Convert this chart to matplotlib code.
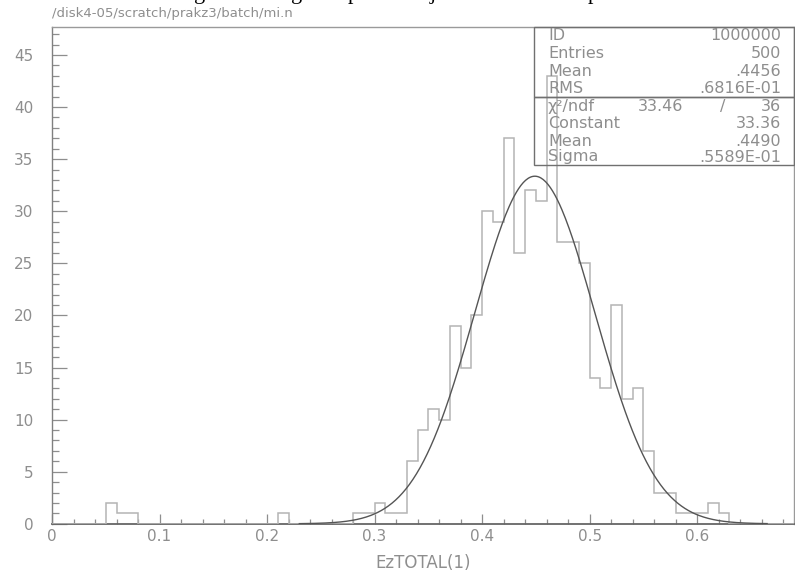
"""
PAW-style histogram of EzTOTAL(1) with a gaussian fit and stats box
"""
import numpy as np
import matplotlib
matplotlib.use("Agg")
import matplotlib.pyplot as plt
from matplotlib.patches import Rectangle
from matplotlib.ticker import MultipleLocator

# bin lower edges (width 0.01) and entries
bin_edges = [0.05, 0.06, 0.07, 0.21, 0.28, 0.29, 0.30, 0.31, 0.32, 0.33,
             0.34, 0.35, 0.36, 0.37, 0.38, 0.39, 0.40, 0.41, 0.42, 0.43,
             0.44, 0.45, 0.46, 0.47, 0.48, 0.49, 0.50, 0.51, 0.52, 0.53,
             0.54, 0.55, 0.56, 0.57, 0.58, 0.59, 0.60, 0.61, 0.62]
bin_counts = [2, 1, 1, 1, 1, 1, 2, 1, 1, 6,
              9, 11, 10, 19, 15, 20, 30, 29, 37, 26,
              32, 31, 43, 27, 27, 25, 14, 13, 21, 12,
              13, 7, 3, 3, 1, 1, 1, 2, 1]
bin_width = 0.01

# fit parameters as printed in the stats box
fit_const = 33.36
fit_mean = 0.4490
fit_sigma = 0.05589
fit_range = (0.23, 0.665)

stat_labels = ["ID", "Entries", "Mean", "RMS"]
stat_values = ["1000000", "500", ".4456", ".6816E-01"]
fit_labels = ["χ²/ndf", "Constant", "Mean", "Sigma"]
fit_values = ["36", "33.36", ".4490", ".5589E-01"]
chi2_value = "33.46"

xtick_values = [0, 0.1, 0.2, 0.3, 0.4, 0.5, 0.6]
xtick_labels = ["0", "0.1", "0.2", "0.3", "0.4", "0.5", "0.6"]
ytick_values = [0, 5, 10, 15, 20, 25, 30, 35, 40, 45]

title = "/disk4-05/scratch/prakz3/batch/mi.n"
xlabel = "EzTOTAL(1)"

W, H = 795, 574
GREY = "#8e8e8e"
plt.rcParams['font.family'] = ['DejaVu Sans']

fig = plt.figure(figsize=(W / 100, H / 100), dpi=100)
ax = fig.add_axes([52 / W, (H - 523.8) / H, (794 - 52) / W, (523.8 - 27) / H])
ax.set_xlim(0, 0.69)
ax.set_ylim(0, 47.68)

# histogram outline: full binning over the range, zero where empty
edges = np.round(np.arange(0, 0.70 + 1e-9, bin_width), 2)
counts = np.zeros(len(edges) - 1)
for lo, c in zip(bin_edges, bin_counts):
    counts[int(round(lo / bin_width))] = c
ax.stairs(counts, edges, color="#b4b4b4", lw=1.1, zorder=3)

# gaussian fit
xf = np.linspace(fit_range[0], fit_range[1], 400)
yf = fit_const * np.exp(-0.5 * ((xf - fit_mean) / fit_sigma) ** 2)
ax.plot(xf, yf, color="#555555", lw=1.0, zorder=4)

# axes styling
for side in ax.spines:
    ax.spines[side].set_color("#9a9a9a")
    ax.spines[side].set_linewidth(1.0)
ax.spines['left'].set_color("#808080")
ax.spines['bottom'].set_color("#666666")
ax.spines['bottom'].set_linewidth(1.3)

ax.xaxis.set_minor_locator(MultipleLocator(0.02))
ax.yaxis.set_minor_locator(MultipleLocator(1))
ax.set_xticks(xtick_values)
ax.set_xticklabels(xtick_labels)
ax.set_yticks(ytick_values)
ax.set_yticklabels([str(v) for v in ytick_values])
ax.tick_params(axis='x', which='major', direction='in', length=7, width=0.9,
               color=GREY, labelcolor=GREY, labelsize=11, pad=3.5)
ax.tick_params(axis='x', which='minor', direction='in', length=3.3, width=0.9,
               color=GREY)
ax.tick_params(axis='y', which='major', direction='in', length=11, width=0.9,
               color=GREY, labelcolor=GREY, labelsize=11, pad=13.5)
ax.tick_params(axis='y', which='minor', direction='in', length=5, width=0.9,
               color=GREY)

ax.set_xlabel(xlabel, color=GREY, fontsize=12)
ax.xaxis.set_label_coords(0.5, -(563 - 523.8) / (523.8 - 27))
ax.xaxis.label.set_va('center')

fig.text(52 / W, 1 - 17 / H, title, color=GREY, fontsize=9.5, ha='left',
         va='baseline')

# clipped caption from the page above: only descenders show
for ch, px in [("g", 200), ("g", 297), ("p", 353), ("j", 433), ("p", 593)]:
    fig.text(px / W, 1 + 1.5 / H, ch, color="black", fontsize=16,
             family='Liberation Serif', ha='center', va='baseline')

# stats box
box_l, box_r, box_t, box_m, box_b = 534, 794, 26.7, 96.7, 165
for top, bot in [(box_t, box_m), (box_m, box_b)]:
    fig.patches.append(Rectangle((box_l / W, 1 - bot / H), (box_r - box_l) / W,
                                 (bot - top) / H, transform=fig.transFigure,
                                 fill=False, edgecolor="#707070", lw=1.0,
                                 zorder=1))

row_y = [35, 53, 71.5, 88.5, 106.5, 123.5, 141, 157]
for i, (lab, val) in enumerate(zip(stat_labels + fit_labels, stat_values + fit_values)):
    y = 1 - row_y[i] / H
    fig.text(548 / W, y, lab, color=GREY, fontsize=11.5, ha='left', va='center')
    fig.text(781 / W, y, val, color=GREY, fontsize=11.5, ha='right', va='center')
fig.text(683 / W, 1 - row_y[4] / H, chi2_value, color=GREY, fontsize=11.5,
         ha='right', va='center')
fig.text(723 / W, 1 - row_y[4] / H, "/", color=GREY, fontsize=11.5,
         ha='center', va='center')

fig.savefig("out.png", dpi=100)
